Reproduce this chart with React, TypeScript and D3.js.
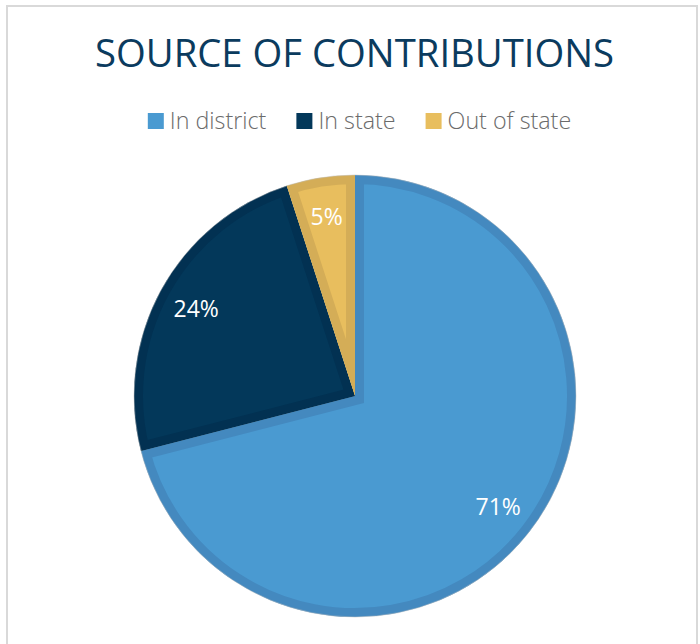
import { useEffect, useRef } from "react";
import * as d3 from "d3";

// data
const categories = ["In district", "In state", "Out of state"];
const shares = [71, 24, 5];
const fills = ["#4a9ad1", "#03385a", "#e8be5e"];
const edges = ["#4489bf", "#023152", "#d4ad57"];

export default function App() {
  const ref = useRef<SVGSVGElement>(null);

  useEffect(() => {
    const width = 700;
    const height = 644;
    const svg = d3.select(ref.current).attr("width", width).attr("height", height);
    svg.selectAll("*").remove();

    // frame
    svg
      .append("rect")
      .attr("x", 7)
      .attr("y", 6)
      .attr("width", 690)
      .attr("height", 680)
      .attr("fill", "#fff")
      .attr("stroke", "#d9d9d9")
      .attr("stroke-width", 2);

    // title (squeezed a bit, like the original)
    svg
      .append("text")
      .attr("x", 354.5)
      .attr("y", 67)
      .attr("text-anchor", "middle")
      .attr("textLength", 519)
      .attr("lengthAdjust", "spacingAndGlyphs")
      .style("font-family", "'Open Sans'")
      .style("font-size", "39px")
      .attr("fill", "#0b3b5e")
      .text("SOURCE OF CONTRIBUTIONS");

    // legend
    const color = d3.scaleOrdinal<string, string>().domain(categories).range(fills);
    const items = svg.append("g").selectAll("g").data(categories).join("g");
    items
      .append("rect")
      .attr("y", 113)
      .attr("width", 16)
      .attr("height", 16)
      .attr("fill", (d) => color(d));
    const labels = items
      .append("text")
      .attr("x", 22)
      .attr("y", 129)
      .style("font-family", "'Open Sans'")
      .style("font-size", "24px")
      .style("font-weight", "300")
      .attr("fill", "#6b6b6b")
      .text((d) => d);
    labels.each(function () {
      const t = this as SVGTextElement;
      const w = t.getComputedTextLength();
      d3.select(t).attr("textLength", w * 0.97).attr("lengthAdjust", "spacingAndGlyphs");
    });
    const widths: number[] = [];
    items.each(function () {
      widths.push((this as SVGGElement).getBBox().width);
    });
    const gap = 30;
    const total = d3.sum(widths) + gap * (widths.length - 1);
    const lx = 359.5 - total / 2;
    items.attr("transform", (_, i) => {
      const x = lx + d3.sum(widths.slice(0, i)) + gap * i;
      return `translate(${x},0)`;
    });

    // pie
    const cx = 355;
    const cy = 396;
    const r = 221;
    const pie = d3
      .pie<number>()
      .sort(null)
      .value((d) => d);
    const arcs = pie(shares);
    const arc = d3.arc<d3.PieArcDatum<number>>().innerRadius(0).outerRadius(r);
    const labelArc = d3
      .arc<d3.PieArcDatum<number>>()
      .innerRadius(r * 0.82)
      .outerRadius(r * 0.82);

    const g = svg.append("g").attr("transform", `translate(${cx},${cy})`);
    const defs = svg.append("defs");
    arcs.forEach((a, i) => {
      defs
        .append("clipPath")
        .attr("id", `slice-clip-${i}`)
        .append("path")
        .attr("d", arc(a) as string);
    });

    g.selectAll("path.slice")
      .data(arcs)
      .join("path")
      .attr("class", "slice")
      .attr("d", (d) => arc(d) as string)
      .attr("fill", (_, i) => fills[i])
      .attr("stroke", (_, i) => edges[i])
      .attr("stroke-width", 18)
      .attr("stroke-linejoin", "miter")
      .attr("clip-path", (_, i) => `url(#slice-clip-${i})`);

    // faint outer rim
    g.append("circle")
      .attr("r", r)
      .attr("fill", "none")
      .attr("stroke", "#bfbfbf")
      .attr("stroke-opacity", 0.5)
      .attr("stroke-width", 1);

    g.selectAll("text.lbl")
      .data(arcs)
      .join("text")
      .attr("class", "lbl")
      .attr("transform", (d) => `translate(${labelArc.centroid(d)})`)
      .attr("text-anchor", "middle")
      .attr("dy", "0.35em")
      .style("font-family", "'Open Sans'")
      .style("font-size", "23px")
      .attr("fill", "#fff")
      .text((d) => `${d.data}%`);
  }, []);

  return <svg ref={ref} style={{ position: "absolute", left: 0, top: 0 }} />;
}
